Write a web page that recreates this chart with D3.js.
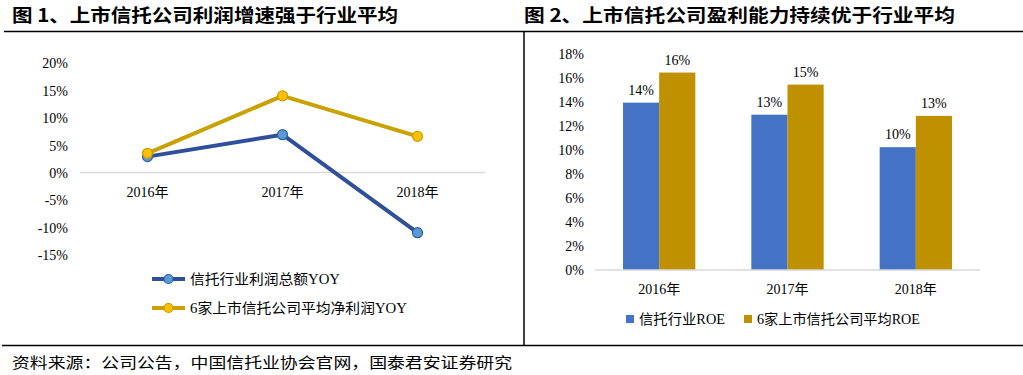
<!DOCTYPE html>
<html><head><meta charset="utf-8">
<script src="https://cdn.jsdelivr.net/npm/d3@7"></script>
<style>body{margin:0;background:#fff}svg{display:block}</style>
</head><body>
<svg id="c" width="1023" height="375"></svg>
<script>
const years = ["2016年","2017年","2018年"];
const industryYoY = [0.029, 0.069, -0.110];
const listedYoY = [0.035, 0.140, 0.066];
const yoyTicks = [0.20,0.15,0.10,0.05,0,-0.05,-0.10,-0.15];
const industryROE = [0.139, 0.129, 0.102];
const listedROE = [0.164, 0.154, 0.128];
const roeTicks = [0,0.02,0.04,0.06,0.08,0.10,0.12,0.14,0.16,0.18];
const title1 = "图 1、上市信托公司利润增速强于行业平均";
const title2 = "图 2、上市信托公司盈利能力持续优于行业平均";
const legend1 = ["信托行业利润总额YOY","6家上市信托公司平均净利润YOY"];
const legend2 = ["信托行业ROE","6家上市信托公司平均ROE"];
const source = "资料来源：公司公告，中国信托业协会官网，国泰君安证券研究";

const FONT = "'Liberation Serif','Times New Roman','Noto Sans CJK SC',serif";
const svg = d3.select("#c").style("font-family", FONT);
const pct0 = d3.formatLocale({decimal:".",thousands:",",grouping:[3],currency:["",""],minus:"-",percent:"%"}).format(".0%");

// frame lines
svg.append("line").attr("x1",4).attr("x2",1023).attr("y1",31.5).attr("y2",31.5).attr("stroke","#000").attr("stroke-width",1.5);
svg.append("line").attr("x1",2).attr("x2",1023).attr("y1",345.5).attr("y2",345.5).attr("stroke","#000").attr("stroke-width",1.5);
svg.append("line").attr("x1",524).attr("x2",524).attr("y1",31.5).attr("y2",345.5).attr("stroke","#000").attr("stroke-width",1.5);

// titles
svg.append("text").attr("x",12).attr("y",22).attr("font-size",18).attr("font-weight","bold")
  .attr("font-family","'Noto Sans CJK SC',sans-serif").attr("textLength",386).attr("lengthAdjust","spacingAndGlyphs").text(title1);
svg.append("text").attr("x",524).attr("y",22).attr("font-size",18).attr("font-weight","bold")
  .attr("font-family","'Noto Sans CJK SC',sans-serif").attr("textLength",431).attr("lengthAdjust","spacingAndGlyphs").text(title2);
svg.append("text").attr("x",12).attr("y",368).attr("font-size",15).attr("textLength",500).attr("lengthAdjust","spacingAndGlyphs").text(source);

// ---- Chart 1: lines ----
const x1 = d3.scaleBand().domain(years).range([80,485]);
const y1 = d3.scaleLinear().domain([-0.15,0.20]).range([254.6,63]);
const g1 = svg.append("g");
g1.append("g").attr("transform","translate(68,0)")
  .call(d3.axisLeft(y1).tickValues(yoyTicks).tickFormat(pct0).tickSize(0).tickPadding(0))
  .call(g=>g.select(".domain").remove())
  .call(g=>g.selectAll("text").attr("font-size",14).attr("font-family",FONT).attr("fill","#000").attr("dy","0.35em"));
g1.append("line").attr("x1",80).attr("x2",485).attr("y1",y1(0)).attr("y2",y1(0)).attr("stroke","#d9d9d9").attr("stroke-width",1.5);
g1.append("g").attr("transform",`translate(0,${y1(0)})`)
  .call(d3.axisBottom(x1).tickSize(0).tickPadding(0))
  .call(g=>g.select(".domain").remove())
  .call(g=>g.selectAll("text").attr("font-size",14).attr("font-family",FONT).attr("fill","#000").attr("dy","1.75em"));
const series1 = [
  {vals: industryYoY, line:"#2E509A", fill:"#5B9BD5", stroke:"#2E5FA6"},
  {vals: listedYoY, line:"#C9A100", fill:"#FFC000", stroke:"#C99A00"}
];
const cx = d => x1(d) + x1.bandwidth()/2;
series1.forEach(s=>{
  const pts = years.map((yr,i)=>[cx(yr), y1(s.vals[i])]);
  g1.append("path").attr("d", d3.line()(pts)).attr("fill","none").attr("stroke",s.line).attr("stroke-width",4).attr("stroke-linejoin","round");
});
series1.forEach(s=>{
  years.forEach((yr,i)=>{
    g1.append("circle").attr("cx",cx(yr)).attr("cy",y1(s.vals[i])).attr("r",5).attr("fill",s.fill).attr("stroke",s.stroke).attr("stroke-width",1.2);
  });
});
// legend 1
const legY = [279, 308];
const legW1 = [150, 217];
series1.forEach((s,i)=>{
  const y = legY[i];
  g1.append("line").attr("x1",152).attr("x2",185).attr("y1",y).attr("y2",y).attr("stroke",s.line).attr("stroke-width",4);
  g1.append("circle").attr("cx",168.5).attr("cy",y).attr("r",4.5).attr("fill",s.fill).attr("stroke",s.stroke).attr("stroke-width",1.2);
  g1.append("text").attr("x",190).attr("y",y+5).attr("font-size",14).attr("textLength",legW1[i]).attr("lengthAdjust","spacingAndGlyphs").text(legend1[i]);
});

// ---- Chart 2: bars ----
const x2 = d3.scaleBand().domain(years).range([595,980]);
const sub = d3.scaleBand().domain([0,1]).range([28, x2.bandwidth()-28]);
const y2 = d3.scaleLinear().domain([0,0.18]).range([270,53.3]);
const g2 = svg.append("g");
g2.append("g").attr("transform","translate(584,0)")
  .call(d3.axisLeft(y2).tickValues(roeTicks).tickFormat(pct0).tickSize(0).tickPadding(0))
  .call(g=>g.select(".domain").remove())
  .call(g=>g.selectAll("text").attr("font-size",14).attr("font-family",FONT).attr("fill","#000").attr("dy","0.35em"));
const series2 = [{vals: industryROE, color:"#4472C4"},{vals: listedROE, color:"#BF9000"}];
series2.forEach((s,si)=>{
  years.forEach((yr,i)=>{
    const x = x2(yr)+sub(si);
    g2.append("rect").attr("x",x).attr("width",sub.bandwidth()).attr("y",y2(s.vals[i])).attr("height",y2(0)-y2(s.vals[i])).attr("fill",s.color);
    g2.append("text").attr("x",x+sub.bandwidth()/2).attr("y",y2(s.vals[i])-8).attr("text-anchor","middle").attr("font-size",14).text(pct0(s.vals[i]));
  });
});
g2.append("line").attr("x1",595).attr("x2",980).attr("y1",y2(0)).attr("y2",y2(0)).attr("stroke","#d9d9d9").attr("stroke-width",1.5);
g2.append("g").attr("transform",`translate(0,${y2(0)})`)
  .call(d3.axisBottom(x2).tickSize(0).tickPadding(0))
  .call(g=>g.select(".domain").remove())
  .call(g=>g.selectAll("text").attr("font-size",14).attr("font-family",FONT).attr("fill","#000").attr("dy","1.7em"));
// legend 2
const leg2X = [626, 744];
const legW2 = [86, 163];
series2.forEach((s,i)=>{
  g2.append("rect").attr("x",leg2X[i]).attr("y",315).attr("width",8).attr("height",8).attr("fill",s.color);
  g2.append("text").attr("x",leg2X[i]+13).attr("y",324).attr("font-size",14).attr("textLength",legW2[i]).attr("lengthAdjust","spacingAndGlyphs").text(legend2[i]);
});
</script>
</body></html>
